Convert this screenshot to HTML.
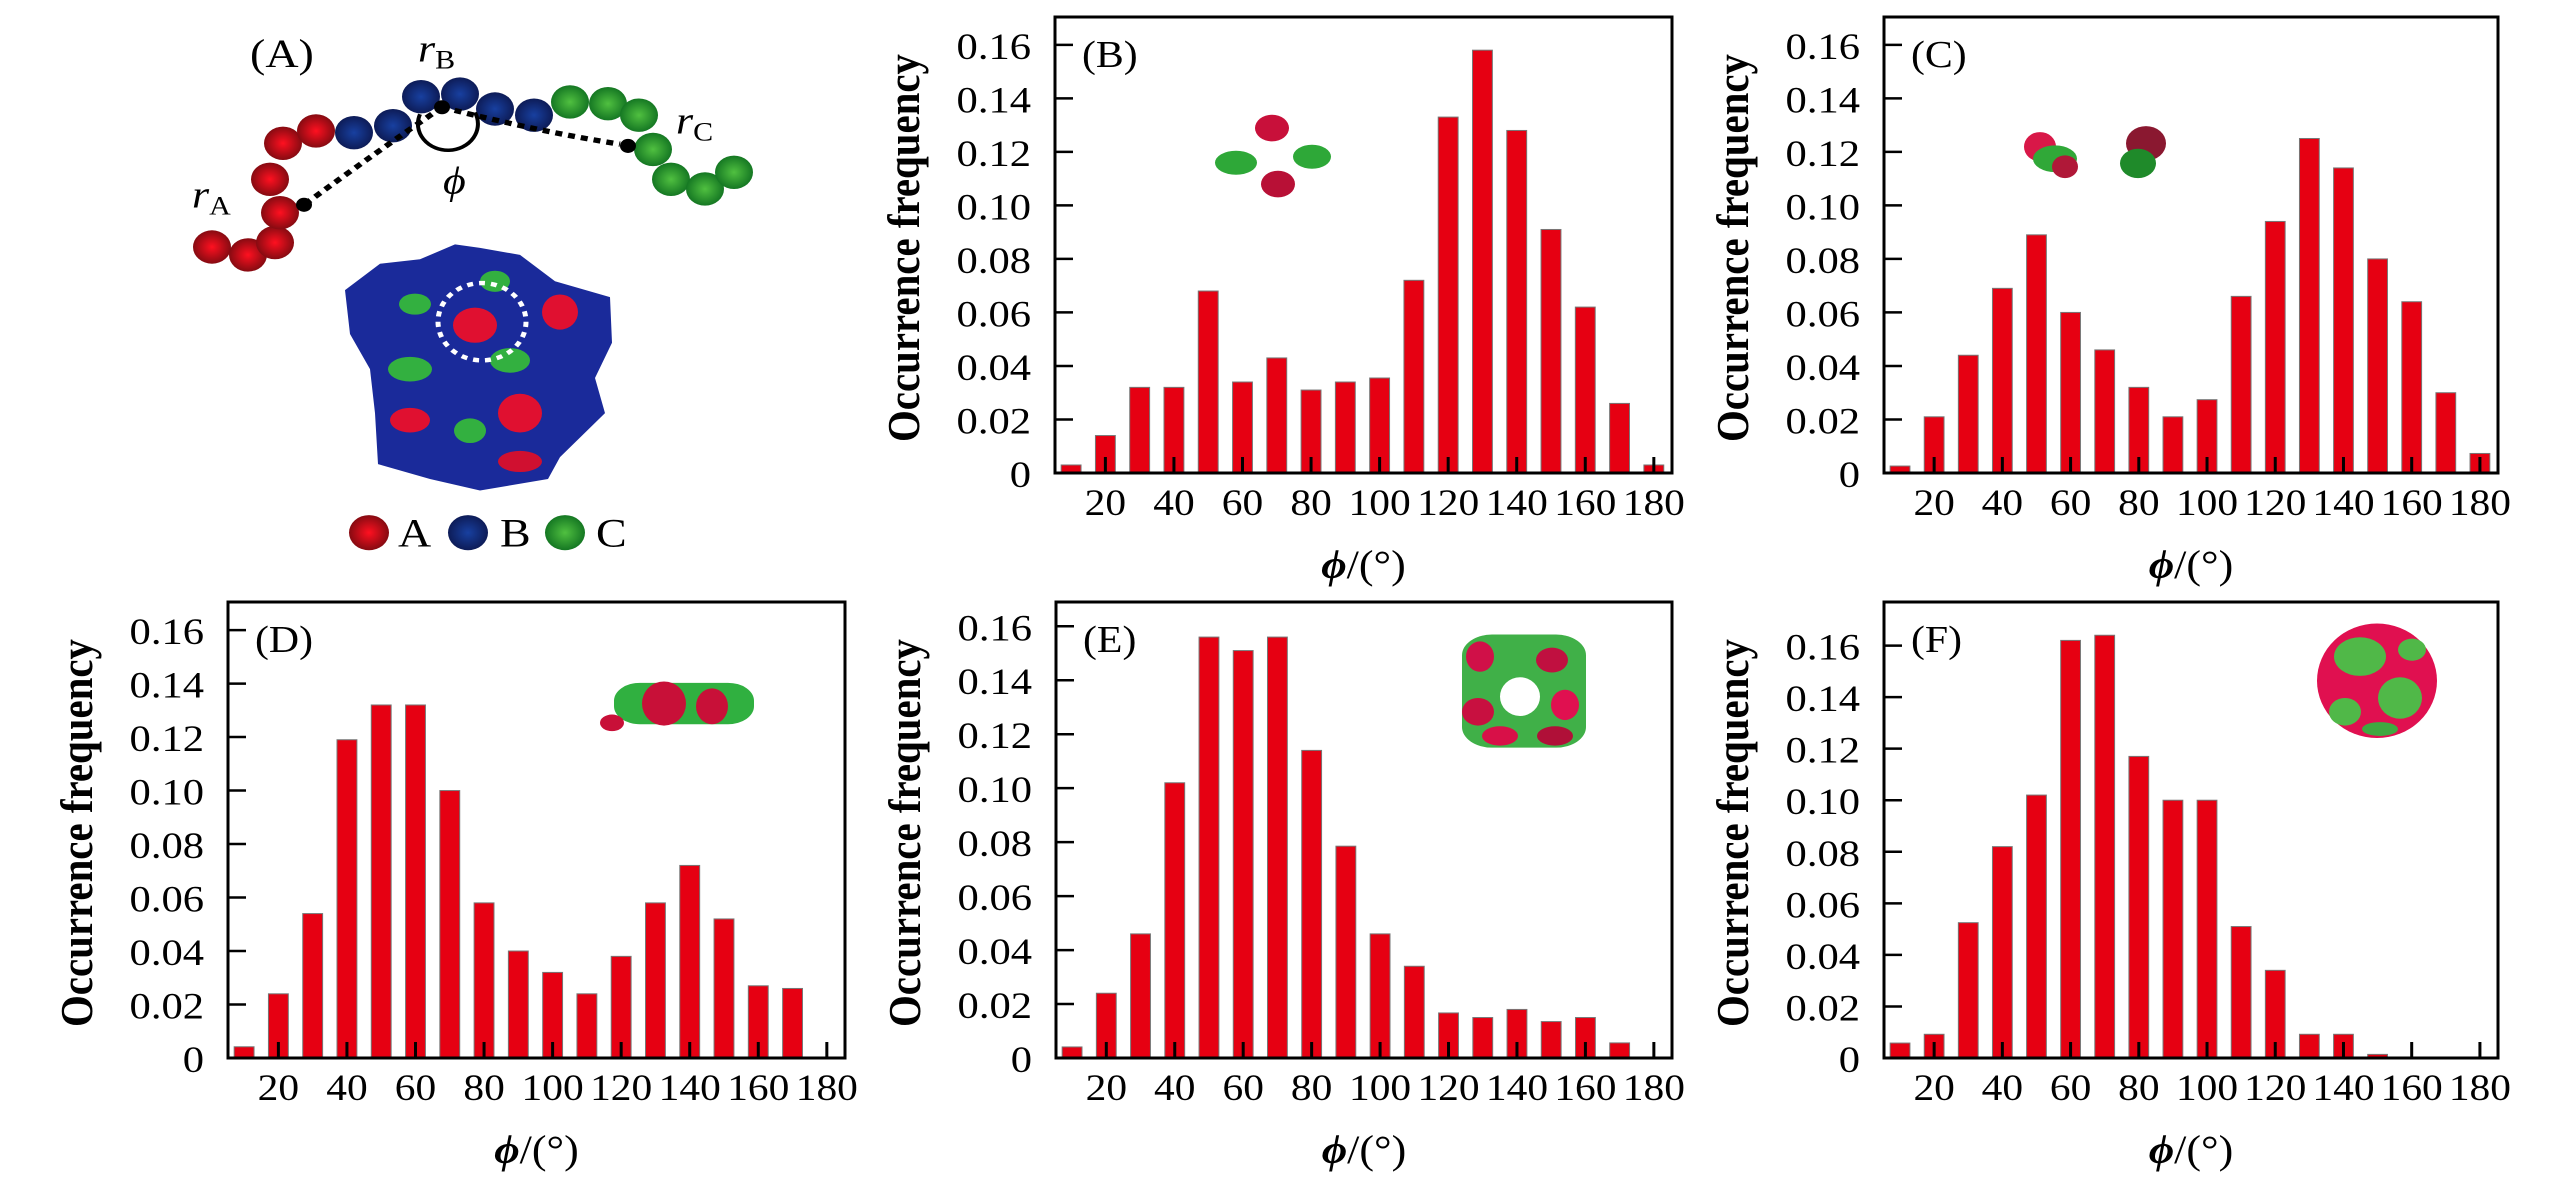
<!DOCTYPE html>
<html><head><meta charset="utf-8"><style>
html,body{margin:0;padding:0;background:#fff;overflow:hidden;}
svg{display:block;font-family:"Liberation Serif",serif;}
</style></head><body>
<svg id="fig" width="2567" height="1181" viewBox="0 0 2567 1181" xmlns="http://www.w3.org/2000/svg">
<defs>
<radialGradient id="gr" cx="0.5" cy="0.5" r="0.55"><stop offset="0" stop-color="#ff1020"/><stop offset="1" stop-color="#7a0a10"/></radialGradient>
<radialGradient id="gb" cx="0.5" cy="0.5" r="0.55"><stop offset="0" stop-color="#1840a0"/><stop offset="1" stop-color="#0c1850"/></radialGradient>
<radialGradient id="gg" cx="0.5" cy="0.5" r="0.55"><stop offset="0" stop-color="#50c040"/><stop offset="1" stop-color="#0f7020"/></radialGradient>
</defs>
<g id="panelA" transform="scale(1,0.879)">
<text x="250" y="76" font-size="46">(A)</text>
<g id="beads"></g>
<path d="M442,122 Q380,170 304,233" fill="none" stroke="#000" stroke-width="6" stroke-dasharray="7,6"/>
<path d="M442,122 Q540,150 620,164" fill="none" stroke="#000" stroke-width="6" stroke-dasharray="7,6"/>
<path d="M420,130 A30,30 0 1 0 475,128" fill="none" stroke="#000" stroke-width="4"/>
<circle cx="442" cy="122" r="8" fill="#000"/>
<circle cx="304" cy="233" r="8" fill="#000"/>
<circle cx="628" cy="166" r="8" fill="#000"/>
<text x="418" y="70" font-size="44" font-style="italic">r<tspan font-size="30" font-style="normal" dy="8">B</tspan></text>
<text x="192" y="236" font-size="44" font-style="italic">r<tspan font-size="30" font-style="normal" dy="8">A</tspan></text>
<text x="676" y="152" font-size="44" font-style="italic">r<tspan font-size="30" font-style="normal" dy="8">C</tspan></text>
<text x="443" y="220" font-size="44" font-style="italic">ϕ</text>
<g>
<path d="M345,330 L380,300 L420,295 L455,278 L480,282 L520,290 L555,320 L610,338 L612,390 L595,430 L605,470 L560,520 L548,545 L480,558 L430,545 L378,528 L375,470 L370,420 L350,380 Z" fill="#1a2a9a"/>
<ellipse cx="415" cy="346" rx="16" ry="12" fill="#33b040"/>
<ellipse cx="410" cy="420" rx="22" ry="14" fill="#33b040"/>
<ellipse cx="510" cy="410" rx="20" ry="14" fill="#33b040"/>
<ellipse cx="495" cy="320" rx="15" ry="12" fill="#33b040"/>
<ellipse cx="475" cy="370" rx="22" ry="20" fill="#e01030"/>
<ellipse cx="560" cy="355" rx="18" ry="20" fill="#e01030"/>
<ellipse cx="520" cy="470" rx="22" ry="22" fill="#e01030"/>
<ellipse cx="410" cy="478" rx="20" ry="14" fill="#e01030"/>
<ellipse cx="470" cy="490" rx="16" ry="14" fill="#33b040"/>
<ellipse cx="520" cy="525" rx="22" ry="12" fill="#d01030"/>
<circle cx="482" cy="366" r="44" fill="none" stroke="#fff" stroke-width="5" stroke-dasharray="6,6"/>
</g>
<g>
<circle cx="369" cy="606" r="20" fill="url(#gr)"/><text x="398" y="622" font-size="46">A</text>
<circle cx="468" cy="606" r="20" fill="url(#gb)"/><text x="500" y="622" font-size="46">B</text>
<circle cx="565" cy="606" r="20" fill="url(#gg)"/><text x="596" y="622" font-size="46">C</text>
</g>
</g>
<g id="charts"></g>
<g id="insets">
<g transform="scale(1,0.667)">
<ellipse cx="1272" cy="192" rx="17" ry="20" fill="#c8103a"/><ellipse cx="1278" cy="276" rx="17" ry="20" fill="#b81036"/>
<ellipse cx="1236" cy="244" rx="21" ry="18" fill="#2ea838"/><ellipse cx="1312" cy="235" rx="19" ry="18" fill="#2ea838"/>
</g>
<g transform="scale(1,0.667)">
<ellipse cx="2040" cy="220" rx="16" ry="22" fill="#d81848"/><ellipse cx="2055" cy="238" rx="22" ry="20" fill="#30a838"/><ellipse cx="2065" cy="250" rx="13" ry="17" fill="#b01838"/>
<ellipse cx="2146" cy="215" rx="20" ry="26" fill="#8a1830"/><ellipse cx="2138" cy="245" rx="18" ry="22" fill="#1f8a2a"/>
</g>
<g transform="translate(0,560) scale(1,0.69) translate(0,-560)">
<g>
<rect x="614" y="738" width="140" height="60" rx="26" fill="#30b040"/>
<ellipse cx="664" cy="768" rx="22" ry="32" fill="#c81038"/><ellipse cx="712" cy="772" rx="16" ry="26" fill="#c81038"/><ellipse cx="612" cy="796" rx="12" ry="12" fill="#c81038"/>
</g>
<g>
<rect x="1462" y="668" width="124" height="164" rx="30" fill="#40b048"/>
<ellipse cx="1520" cy="758" rx="20" ry="28" fill="#fff"/>
<ellipse cx="1480" cy="700" rx="14" ry="22" fill="#d01048"/><ellipse cx="1552" cy="705" rx="16" ry="18" fill="#c01040"/>
<ellipse cx="1478" cy="780" rx="16" ry="20" fill="#c81040"/><ellipse cx="1565" cy="770" rx="14" ry="22" fill="#e01050"/>
<ellipse cx="1500" cy="815" rx="18" ry="14" fill="#d81048"/><ellipse cx="1555" cy="815" rx="18" ry="14" fill="#b01038"/>
</g>
<g>
<ellipse cx="2377" cy="735" rx="60" ry="83" fill="#e01050"/>
<ellipse cx="2360" cy="700" rx="26" ry="28" fill="#50b848"/><ellipse cx="2400" cy="760" rx="22" ry="30" fill="#50b848"/>
<ellipse cx="2345" cy="780" rx="16" ry="20" fill="#50b848"/><ellipse cx="2412" cy="690" rx="14" ry="16" fill="#50b848"/>
<ellipse cx="2380" cy="805" rx="18" ry="10" fill="#40a840"/>
</g>
</g>
</g>
</svg>
<script>
// ---- data ----
const categories = [10,20,30,40,50,60,70,80,90,100,110,120,130,140,150,160,170,180];
const xTickLabels = [20,40,60,80,100,120,140,160,180];
const yTickValues = [0,0.02,0.04,0.06,0.08,0.10,0.12,0.14,0.16];
const seriesB = [0.003,0.014,0.032,0.032,0.068,0.034,0.043,0.031,0.034,0.0355,0.072,0.133,0.158,0.128,0.091,0.062,0.026,0.003];
const seriesC = [0.0026,0.021,0.044,0.069,0.089,0.060,0.046,0.032,0.021,0.0274,0.066,0.094,0.125,0.114,0.080,0.064,0.030,0.0073];
const seriesD = [0.0042,0.024,0.054,0.119,0.132,0.132,0.100,0.058,0.040,0.032,0.024,0.038,0.058,0.072,0.052,0.027,0.026,0];
const seriesE = [0.0041,0.024,0.046,0.102,0.156,0.151,0.156,0.114,0.0785,0.046,0.034,0.0167,0.015,0.018,0.0135,0.015,0.0056,0];
const seriesF = [0.0058,0.0092,0.0525,0.082,0.102,0.162,0.164,0.117,0.100,0.100,0.051,0.034,0.0092,0.0092,0.0014,0,0,0];

const NS="http://www.w3.org/2000/svg";
function mk(tag,attrs,parent){const e=document.createElementNS(NS,tag);for(const k in attrs)e.setAttribute(k,attrs[k]);parent.appendChild(e);return e;}

const beadsG=document.getElementById('beads');
const beadSets=[["url(#gr)",[[212,281],[248,290],[275,276],[280,242],[270,204],[283,163],[316,149]]],
["url(#gb)",[[354,151],[393,143],[421,110],[460,107],[495,124],[534,131]]],
["url(#gg)",[[570,116],[608,118],[639,131],[653,170],[671,204],[705,215],[734,196]]]];
beadSets.forEach(s=>s[1].forEach(p=>{const c=mk('circle',{cx:p[0],cy:p[1],r:19,fill:s[0]},beadsG);

}));

const panels=[
 {id:'b',label:'(B)',x0:1055,x1:1672,top:17,bot:473,ymax:0.1704,data:seriesB},
 {id:'c',label:'(C)',x0:1884,x1:2498,top:17,bot:473,ymax:0.1704,data:seriesC},
 {id:'d',label:'(D)',x0:228,x1:845,top:602,bot:1058,ymax:0.1705,data:seriesD},
 {id:'e',label:'(E)',x0:1056,x1:1672,top:602,bot:1058,ymax:0.169,data:seriesE},
 {id:'f',label:'(F)',x0:1884,x1:2498,top:602,bot:1058,ymax:0.1769,data:seriesF}
];
const charts=document.getElementById('charts');
panels.forEach(p=>{
 const g=mk('g',{},charts);
 
 
 const xs=v=>p.x0+(v-5.3)/180*(p.x1-p.x0);
 const ys=v=>p.bot-v/p.ymax*(p.bot-p.top);
 const bw=(xs(10)-xs(0))*0.58;
 categories.forEach((c,i)=>{const v=p.data[i]; if(v<=0)return;
  const r=mk('rect',{x:xs(c)-bw/2,y:ys(v),width:bw,height:p.bot-ys(v),fill:'#e60012',stroke:'#777','stroke-width':1},g);
  
  
 });
 const fr=mk('rect',{x:p.x0,y:p.top,width:p.x1-p.x0,height:p.bot-p.top,fill:'none',stroke:'#000','stroke-width':3},g);
 
 
 yTickValues.forEach(v=>{const y=ys(v);
  mk('line',{x1:p.x0,x2:p.x0+18,y1:y,y2:y,stroke:'#000','stroke-width':2.5},g);
  const t=mk('text',{transform:`translate(${p.x0-24},${y+14}) scale(1.15,1)`,'text-anchor':'end','font-size':37},g);
  t.textContent=v===0?'0':v.toFixed(2);
  
  
 });
 xTickLabels.forEach(v=>{const x=xs(v);
  mk('line',{x1:x,x2:x,y1:p.bot,y2:p.bot-16,stroke:'#000','stroke-width':3},g);
  const t=mk('text',{transform:`translate(${x},${p.bot+42}) scale(1.12,1)`,'text-anchor':'middle','font-size':37},g);
  t.textContent=v;
  
  
 });
 const lab=mk('text',{transform:`translate(${p.x0+27},${p.top+50}) scale(1.1,1)`,'font-size':38},g);
 lab.textContent=p.label;
 
 
 const cy=(p.top+p.bot)/2+3, tx=p.x0-136;
 const yt=mk('text',{transform:`translate(${tx},${cy}) rotate(-90)`,'text-anchor':'middle','font-size':46,textLength:388,lengthAdjust:'spacingAndGlyphs','font-weight':'bold'},g);
 yt.textContent='Occurrence frequency';
 
 
 const xt=mk('text',{transform:`translate(${(p.x0+p.x1)/2},${p.bot+105}) scale(1.1,1)`,'text-anchor':'middle','font-size':40},g);
 xt.innerHTML='<tspan font-style="italic" font-weight="bold">ϕ</tspan>/(°)';
 
 
});
</script>
</body></html>
